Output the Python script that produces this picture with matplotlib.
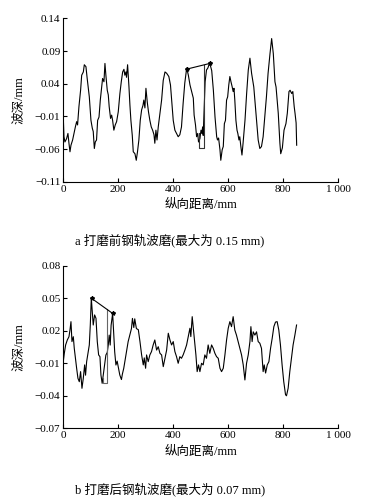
import numpy as np
import matplotlib
matplotlib.use("Agg")
import matplotlib.pyplot as plt

plt.rcParams['font.family'] = ['Liberation Serif', 'Noto Sans CJK SC']
plt.rcParams['axes.unicode_minus'] = True

# chart a: before grinding
xa = [0, 2.5, 6, 12, 17, 20.7, 24.4, 28, 34, 39, 44, 48.6, 52, 57, 63, 67, 73, 76.5, 82.5, 87,
      94.7, 100.7, 105.6, 109, 113, 116.5, 121, 125, 130, 134.7, 139.5, 143, 148, 151.6, 155, 160,
      163.7, 167, 172, 176, 179.5, 184, 189, 194, 200, 206, 211, 216, 220.7, 224, 228, 230, 234,
      239, 242.5, 246, 251, 254.6, 260.7, 265.5, 270, 275, 280, 285, 290, 293, 297, 300.7, 305.5,
      310, 315, 320, 325, 330, 333, 337, 341, 345.5, 351.6, 357.7, 363.6, 370, 376, 384, 390, 395,
      400, 406, 412, 418, 424, 430, 436, 442, 449, 455, 461, 467, 473, 476, 481, 485, 489, 492,
      497, 501, 504, 507, 509, 513, 516, 521, 526, 530, 533, 540, 546, 552, 558, 561, 565, 570,
      573, 578, 582, 586, 590, 594, 598, 602, 606, 610, 614, 618, 621, 624, 628, 632, 635, 639,
      642, 646, 650, 654, 661, 667, 673, 679, 685, 693, 703, 709, 715, 721, 727, 733, 739, 745,
      752, 758, 764, 770, 774, 782, 788, 791, 797, 803, 810, 815, 821, 825, 831, 835, 840, 843,
      847, 849]
ya = [-0.011, -0.041, -0.049, -0.044, -0.036, -0.051, -0.064, -0.054, -0.046, -0.036, -0.026,
      -0.018, -0.023, 0.005, 0.030, 0.053, 0.058, 0.069, 0.066, 0.048, 0.020, -0.016, -0.028,
      -0.033, -0.059, -0.049, -0.046, -0.016, -0.011, 0.015, 0.035, 0.048, 0.043, 0.071, 0.053,
      0.030, 0.023, 0.005, -0.013, -0.008, -0.016, -0.031, -0.023, -0.018, -0.003, 0.025, 0.043,
      0.058, 0.062, 0.053, 0.058, 0.050, 0.069, 0.035, 0.007, -0.016, -0.039, -0.064, -0.067,
      -0.077, -0.064, -0.046, -0.016, 0.0, 0.007, 0.015, 0.003, 0.033, 0.012, -0.003, -0.016,
      -0.026, -0.031, -0.038, -0.051, -0.031, -0.046, -0.026, -0.005, 0.015, 0.045, 0.058, 0.056,
      0.051, 0.038, 0.010, -0.016, -0.031, -0.036, -0.041, -0.038, -0.026, 0.010, 0.041, 0.064,
      0.053, 0.038, 0.028, 0.018, -0.008, -0.023, -0.041, -0.036, -0.049, -0.044, -0.031, -0.036,
      -0.026, -0.039, 0.007, 0.043, 0.061, 0.064, 0.069, 0.071, 0.060, 0.030, -0.011, -0.041,
      -0.046, -0.043, -0.061, -0.077, -0.061, -0.056, -0.021, -0.016, 0.015, 0.020, 0.038, 0.051,
      0.043, 0.036, 0.028, 0.033, 0.015, -0.016, -0.031, -0.036, -0.046, -0.041, -0.056, -0.069,
      -0.051, -0.016, 0.025, 0.061, 0.079, 0.056, 0.035, -0.016, -0.046, -0.059, -0.056, -0.041,
      -0.011, 0.020, 0.056, 0.086, 0.109, 0.086, 0.043, 0.035, -0.005, -0.051, -0.067, -0.058,
      -0.031, -0.021, -0.005, 0.028, 0.030, 0.025, 0.028, 0.005, -0.005, -0.020, -0.054]
# peak markers and trough-to-peak bracket
peak_xa = [451, 533]
peak_ya = [0.0625, 0.071]
box_xa = [495, 495, 512, 512]
box_ya = [-0.035, -0.059, -0.059, 0.0688]

# chart b: after grinding
xb = [0, 3.8, 8.6, 14.7, 20.7, 24.4, 28, 31.6, 36.5, 40, 45, 48.6, 53.4, 58.3, 63, 68, 72.8,
      77.7, 81, 85, 89.8, 94.7, 98.3, 102, 105.6, 109, 114, 119, 123.7, 128.6, 133.4, 137, 141.5,
      155, 160, 163.7, 167, 170.7, 174, 179.6, 183, 187, 191.5, 196, 201, 205.6, 211.6, 215, 220,
      225, 230, 236, 242, 248, 251.6, 256.6, 260, 266, 273, 279, 285, 291, 294.6, 299.5, 303, 309,
      315, 321, 327, 333, 339.5, 345.5, 351.6, 357.7, 363.7, 370, 376, 382, 388, 394, 400, 406,
      412, 418, 424, 430, 436, 442.5, 448.6, 454.6, 460.7, 464, 469, 473, 477.6, 482.5, 487, 492,
      497, 503, 509, 515, 521, 527, 533, 539.5, 545.5, 551.6, 557.6, 563.7, 570, 575.8, 582, 588,
      594, 600, 606, 612, 618, 624, 630, 636, 642.5, 648.5, 654.6, 660.7, 666.7, 672.8, 679,
      682.5, 687, 691, 697, 703, 709, 715, 721, 727, 731, 736, 742, 748, 754, 760, 766, 772, 778,
      784, 790, 796, 802, 808.5, 812, 818, 824, 830, 836, 842.5, 848.6]
yb = [-0.0085, -0.0008, 0.0069, 0.0115, 0.0145, 0.0207, 0.0284, 0.0100, 0.0145, 0.0038, -0.0069,
      -0.0146, -0.0239, -0.0270, -0.0177, -0.0331, -0.0239, -0.0115, -0.0210, -0.0085, -0.0008,
      0.0069, 0.0253, 0.0499, 0.0376, 0.0253, 0.0346, 0.0315, 0.0100, -0.0023, -0.0039, -0.0208,
      -0.0285, -0.0024, 0.0, 0.0068, 0.016, 0.0068, 0.025, 0.036, 0.019, 0.0007, -0.0116, -0.008,
      -0.0147, -0.0208, -0.025, -0.02, -0.0146, -0.007, 0.0007, 0.010, 0.016, 0.022, 0.0314,
      0.023, 0.031, 0.022, 0.021, 0.010, -0.0023, -0.0115, -0.005, -0.0146, -0.0023, -0.0085,
      -0.0023, 0.0008, 0.0069, 0.0115, 0.0022, 0.0053, -0.0008, -0.0023, -0.0131, -0.0054, 0.0022,
      0.0177, 0.0115, 0.0069, 0.010, 0.0008, -0.0039, -0.0100, -0.0039, -0.0054, -0.0023, 0.0022,
      0.0069, 0.0146, 0.0223, 0.0146, 0.0330, 0.0223, 0.010, -0.0023, -0.0177, -0.0115, -0.0177,
      -0.010, -0.0115, -0.0023, -0.0054, 0.0069, -0.0008, 0.0069, 0.0038, -0.0008, -0.0039,
      -0.0054, -0.0146, -0.0177, -0.0146, -0.0023, 0.0115, 0.0223, 0.0284, 0.0238, 0.0330, 0.0207,
      0.016, 0.010, 0.0038, -0.0023, -0.0115, -0.0254, -0.010, -0.0023, 0.010, 0.0238, 0.010,
      0.019, 0.016, 0.019, 0.010, 0.0085, 0.0038, -0.0177, -0.0115, -0.019, -0.0115, -0.0085,
      0.0038, 0.0131, 0.0238, 0.028, 0.0284, 0.0207, 0.0069, -0.0115, -0.027, -0.039, -0.040,
      -0.033, -0.0177, -0.0054, 0.0069, 0.016, 0.0253]
peak_xb = [103, 179.6]
peak_yb = [0.0499, 0.036]
box_xb = [143, 143, 157.7, 157.7]
box_yb = [-0.024, -0.0285, -0.0285, 0.040]

xticks = [0, 200, 400, 600, 800, 1000]
xticklabels = ['0', '200', '400', '600', '800', '1 000']
yticks_a = [0.14, 0.09, 0.04, -0.01, -0.06, -0.11]
yticks_b = [0.08, 0.05, 0.02, -0.01, -0.04, -0.07]


def style(ax, yticks, ylim):
    ax.set_xlim(0, 1000)
    ax.set_ylim(*ylim)
    ax.spines['top'].set_visible(False)
    ax.spines['right'].set_visible(False)
    for s in ['left', 'bottom']:
        ax.spines[s].set_linewidth(0.8)
    ax.set_xticks(xticks)
    ax.set_xticklabels(xticklabels)
    ax.set_yticks(yticks)
    ax.set_yticklabels([('%.2f' % v).replace('-', '\u2212') for v in yticks])
    ax.tick_params(direction='in', length=3, width=0.8, labelsize=8, pad=2)
    ax.set_xlabel('纵向距离/mm', fontsize=9, labelpad=4)
    ax.set_ylabel('波深/mm', fontsize=9, labelpad=7)


fig = plt.figure(figsize=(3.70, 5.01), dpi=100)
ax1 = fig.add_axes([0.171, 0.637, 0.743, 0.3265])
ax2 = fig.add_axes([0.171, 0.1451, 0.743, 0.3245])

ax1.plot(xa, ya, color='black', lw=0.8)
ax1.plot(box_xa, box_ya, color='#333333', lw=0.8)
ax1.plot(peak_xa, peak_ya, color='black', lw=0.8, marker='*', ms=3)
style(ax1, yticks_a, (-0.11, 0.14))

ax2.plot(xb, yb, color='black', lw=0.8)
ax2.plot(box_xb, box_yb, color='#666666', lw=0.8)
ax2.plot(peak_xb, peak_yb, color='black', lw=0.8, marker='*', ms=3)
style(ax2, yticks_b, (-0.07, 0.08))

fig.text(75 / 370, 1 - 240 / 501, 'a 打磨前钢轨波磨(最大为 0.15 mm)', fontsize=9,
         ha='left', va='center')
fig.text(75 / 370, 1 - 489 / 501, 'b 打磨后钢轨波磨(最大为 0.07 mm)', fontsize=9,
         ha='left', va='center')

fig.savefig('out.png', dpi=100)
